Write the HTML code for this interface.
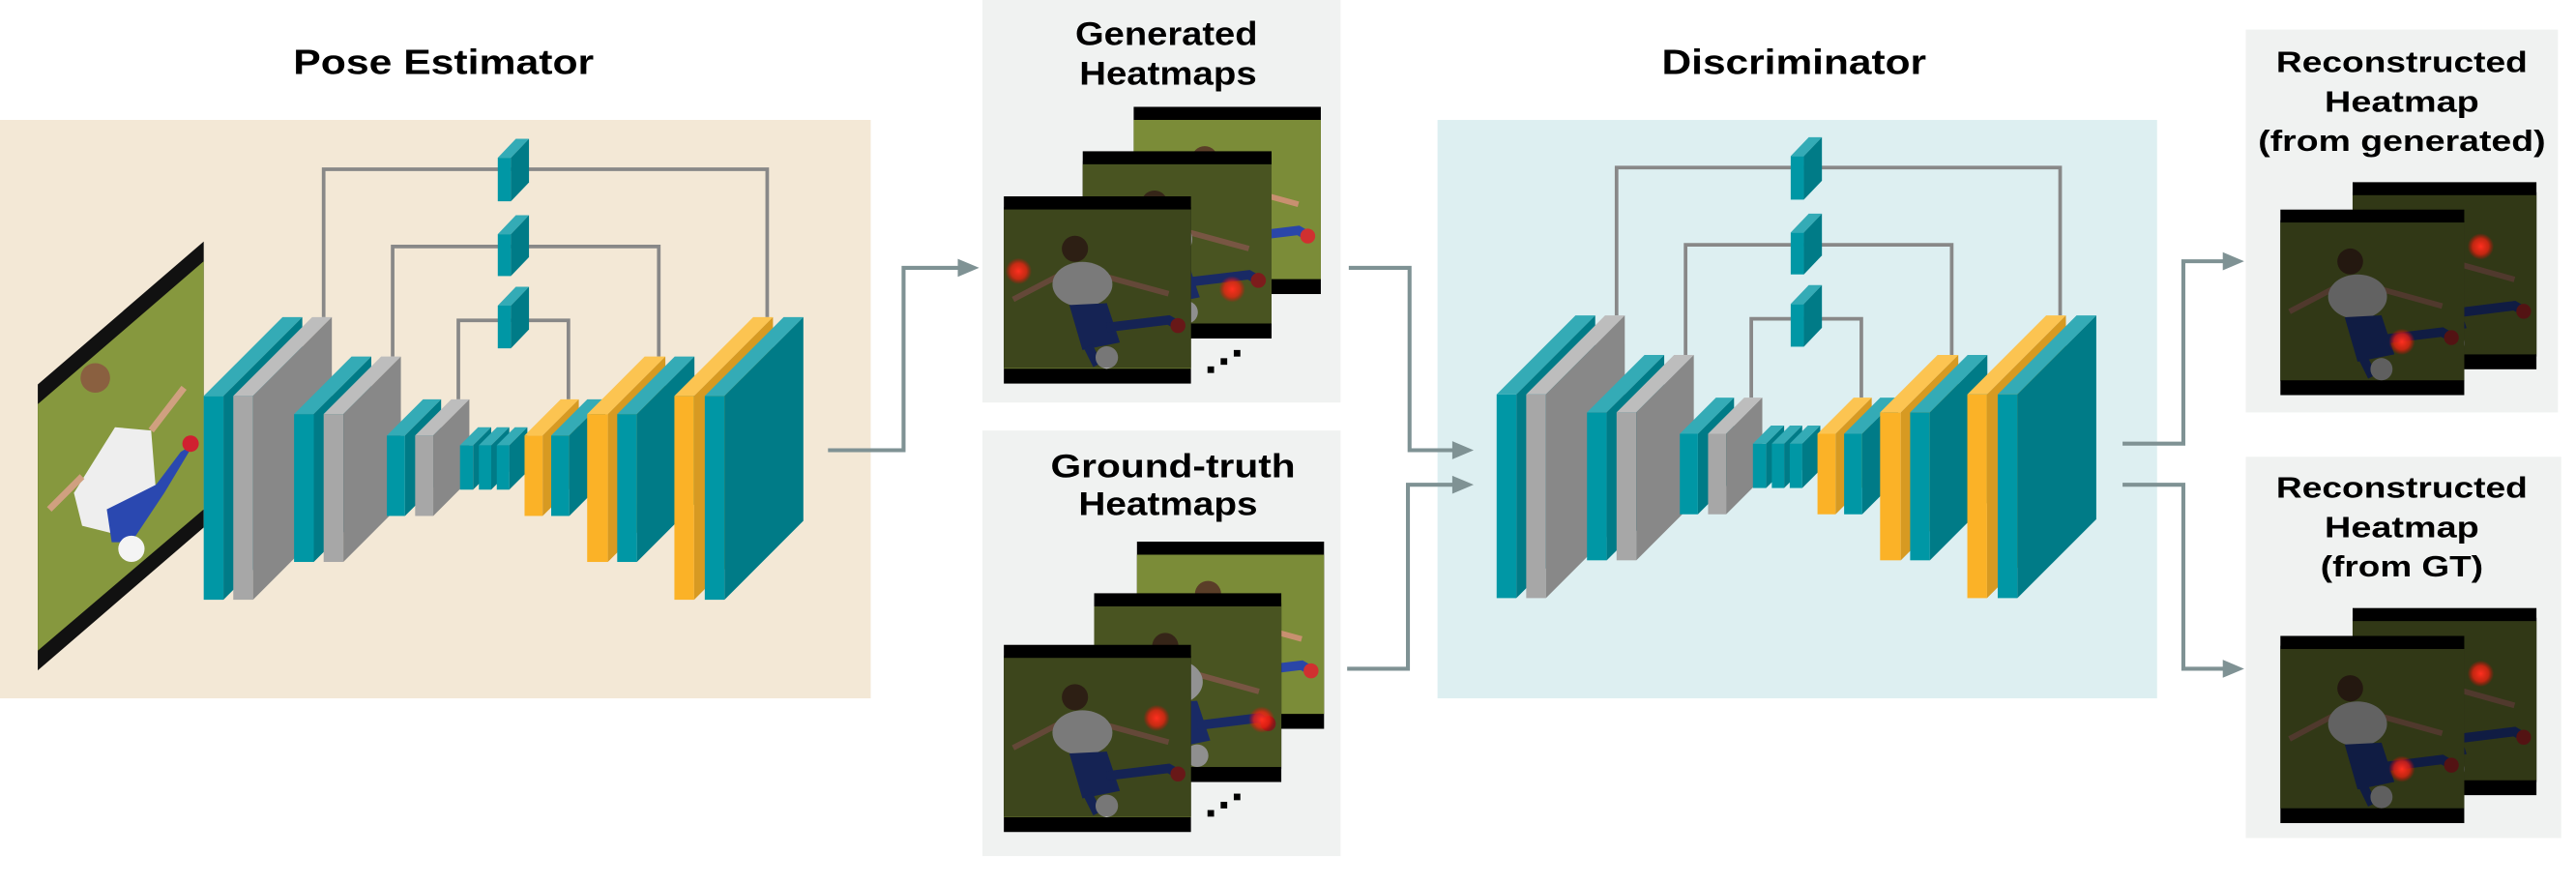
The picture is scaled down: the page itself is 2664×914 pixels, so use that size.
<!DOCTYPE html>
<html><head><meta charset="utf-8"><style>
html,body{margin:0;padding:0;background:#fff;}
svg{display:block;}
text{font-family:"Liberation Sans",Arial,sans-serif;font-weight:bold;fill:#000;}
.tf{fill:#0097a5}.tt{fill:#34abb6}.ts{fill:#007b87}
.gf{fill:#a7a7a7}.gt{fill:#bdbdbd}.gs{fill:#888}
.of{fill:#fbb227}.ot{fill:#fcc451}.os{fill:#d79a22}
.ar{fill:none;stroke:#7f9294;stroke-width:2.4;}
</style></head><body>
<svg width="2664" height="914" viewBox="0 0 1568 538" preserveAspectRatio="none" xmlns="http://www.w3.org/2000/svg">
<defs>
<radialGradient id="glow"><stop offset="0" stop-color="#ff3020" stop-opacity="1"/><stop offset="0.6" stop-color="#ff2010" stop-opacity="0.7"/><stop offset="1" stop-color="#ff0000" stop-opacity="0"/></radialGradient>
<symbol id="pic" viewBox="0 0 100 100" preserveAspectRatio="none">
<rect width="100" height="100" fill="#000"/>
<rect y="7" width="100" height="85" fill="#7b8c38"/>
<path d="M5 55 L30 42 L55 43 L88 52" stroke="#c89070" stroke-width="3" fill="none"/>
<ellipse cx="42" cy="47" rx="16" ry="12" fill="#f4f4f4"/>
<circle cx="38" cy="28" r="7" fill="#5a3e28"/>
<path d="M35 58 L55 57 L62 78 L42 82 Z" fill="#2a46a8"/>
<path d="M55 70 L88 66 L95 70" stroke="#2a46a8" stroke-width="5" fill="none"/>
<path d="M45 80 L50 90" stroke="#2a46a8" stroke-width="5"/>
<circle cx="55" cy="86" r="6" fill="#eee"/>
<circle cx="93" cy="69" r="4" fill="#d03030"/>
</symbol>
<g id="net">
<path d="M197,193V103H467V193M239,217V150H401V217M279,243V195H346V243" fill="none" stroke="#888" stroke-width="2.2"/>
<rect class="tf" x="124" y="241" width="12" height="124"/><polygon class="tt" points="124,241 172,193 184,193 136,241"/><polygon class="ts" points="136,241 184,193 184,317 136,365"/>
<rect class="gf" x="142" y="241" width="12" height="124"/><polygon class="gt" points="142,241 190,193 202,193 154,241"/><polygon class="gs" points="154,241 202,193 202,317 154,365"/>
<rect class="tf" x="179" y="252" width="12" height="90"/><polygon class="tt" points="179,252 214,217 226,217 191,252"/><polygon class="ts" points="191,252 226,217 226,307 191,342"/>
<rect class="gf" x="197" y="252" width="12" height="90"/><polygon class="gt" points="197,252 232,217 244,217 209,252"/><polygon class="gs" points="209,252 244,217 244,307 209,342"/>
<rect class="tf" x="235.5" y="265" width="11" height="49"/><polygon class="tt" points="235.5,265 257.5,243 268.5,243 246.5,265"/><polygon class="ts" points="246.5,265 268.5,243 268.5,292 246.5,314"/>
<rect class="gf" x="252.7" y="265" width="11" height="49"/><polygon class="gt" points="252.7,265 274.7,243 285.7,243 263.7,265"/><polygon class="gs" points="263.7,265 285.7,243 285.7,292 263.7,314"/>
<rect class="tf" x="280" y="271" width="8" height="27"/><polygon class="tt" points="280,271 291,260 299,260 288,271"/><polygon class="ts" points="288,271 299,260 299,287 288,298"/>
<rect class="tf" x="291.5" y="271" width="7.5" height="27"/><polygon class="tt" points="291.5,271 302.5,260 310,260 299,271"/><polygon class="ts" points="299,271 310,260 310,287 299,298"/>
<rect class="tf" x="302.4" y="271" width="7.6" height="27"/><polygon class="tt" points="302.4,271 313.4,260 321,260 310,271"/><polygon class="ts" points="310,271 321,260 321,287 310,298"/>
<rect class="of" x="319.3" y="265" width="11" height="49"/><polygon class="ot" points="319.3,265 341.3,243 352.3,243 330.3,265"/><polygon class="os" points="330.3,265 352.3,243 352.3,292 330.3,314"/>
<rect class="tf" x="335.5" y="265" width="11" height="49"/><polygon class="tt" points="335.5,265 357.5,243 368.5,243 346.5,265"/><polygon class="ts" points="346.5,265 368.5,243 368.5,292 346.5,314"/>
<rect class="of" x="357.4" y="252" width="12.6" height="90"/><polygon class="ot" points="357.4,252 392.4,217 405,217 370,252"/><polygon class="os" points="370,252 405,217 405,307 370,342"/>
<rect class="tf" x="375.7" y="252" width="12" height="90"/><polygon class="tt" points="375.7,252 410.7,217 422.7,217 387.7,252"/><polygon class="ts" points="387.7,252 422.7,217 422.7,307 387.7,342"/>
<rect class="of" x="410.5" y="241" width="12" height="124"/><polygon class="ot" points="410.5,241 458.5,193 470.5,193 422.5,241"/><polygon class="os" points="422.5,241 470.5,193 470.5,317 422.5,365"/>
<rect class="tf" x="429" y="241" width="12" height="124"/><polygon class="tt" points="429,241 477,193 489,193 441,241"/><polygon class="ts" points="441,241 489,193 489,317 441,365"/>
<rect class="tf" x="303" y="96" width="8" height="26.5"/><polygon class="tt" points="303,96 314,84.5 322,84.5 311,96"/><polygon class="ts" points="311,96 322,84.5 322,111 311,122.5"/>
<rect class="tf" x="303" y="142.5" width="8" height="25.5"/><polygon class="tt" points="303,142.5 314,131 322,131 311,142.5"/><polygon class="ts" points="311,142.5 322,131 322,156.5 311,168"/>
<rect class="tf" x="303" y="186" width="8" height="26"/><polygon class="tt" points="303,186 314,174.5 322,174.5 311,186"/><polygon class="ts" points="311,186 322,174.5 322,200.5 311,212"/>
</g>
</defs>

<rect x="0" y="73" width="530" height="352" fill="#f3e8d6"/>
<rect x="875" y="73" width="438" height="352" fill="#ddeff1"/>
<rect x="598" y="0" width="218" height="245" fill="#f0f2f1"/>
<rect x="598" y="262" width="218" height="259" fill="#f0f2f1"/>
<rect x="1367" y="18" width="190" height="233" fill="#f0f2f1"/>
<rect x="1367" y="278" width="192" height="232" fill="#f0f2f1"/>

<text x="270" y="38" font-size="21" text-anchor="middle" dominant-baseline="central" textLength="183" lengthAdjust="spacingAndGlyphs">Pose Estimator</text>
<text x="1092" y="38" font-size="21" text-anchor="middle" dominant-baseline="central" textLength="161" lengthAdjust="spacingAndGlyphs">Discriminator</text>
<text x="710" y="21" font-size="20" text-anchor="middle" dominant-baseline="central" textLength="111" lengthAdjust="spacingAndGlyphs">Generated</text>
<text x="711" y="45" font-size="20" text-anchor="middle" dominant-baseline="central" textLength="108" lengthAdjust="spacingAndGlyphs">Heatmaps</text>
<text x="714" y="284" font-size="20" text-anchor="middle" dominant-baseline="central" textLength="149" lengthAdjust="spacingAndGlyphs">Ground-truth</text>
<text x="711" y="307" font-size="20" text-anchor="middle" dominant-baseline="central" textLength="109" lengthAdjust="spacingAndGlyphs">Heatmaps</text>
<g font-size="18">
<text x="1462" y="38" text-anchor="middle" dominant-baseline="central" textLength="153" lengthAdjust="spacingAndGlyphs">Reconstructed</text>
<text x="1462" y="62" text-anchor="middle" dominant-baseline="central" textLength="94" lengthAdjust="spacingAndGlyphs">Heatmap</text>
<text x="1462" y="86" text-anchor="middle" dominant-baseline="central" textLength="175" lengthAdjust="spacingAndGlyphs">(from generated)</text>
<text x="1462" y="297" text-anchor="middle" dominant-baseline="central" textLength="153" lengthAdjust="spacingAndGlyphs">Reconstructed</text>
<text x="1462" y="321" text-anchor="middle" dominant-baseline="central" textLength="94" lengthAdjust="spacingAndGlyphs">Heatmap</text>
<text x="1462" y="345" text-anchor="middle" dominant-baseline="central" textLength="99" lengthAdjust="spacingAndGlyphs">(from GT)</text>
</g>

<polygon points="23,234 124,147 124,321 23,408" fill="#111"/>
<polygon points="23,246 124,159 124,310 23,396" fill="#86983e"/>
<polygon points="45,300 70,260 92,262 95,300 70,325 50,320" fill="#eeeeee"/>
<circle cx="58" cy="230" r="9" fill="#8a6040"/>
<polygon points="65,310 95,295 110,275 118,270 100,300 80,330 68,330" fill="#2a48b0"/>
<circle cx="80" cy="334" r="8" fill="#f4f4f4"/>
<circle cx="116" cy="270" r="5" fill="#d02030"/>
<path d="M30 310 L50 290 M92 262 L112 236" stroke="#d0a080" stroke-width="4"/>

<use href="#net"/>
<use href="#net" transform="translate(787,-1)"/>

<use href="#pic" x="690" y="65" width="114" height="114"/>
<use href="#pic" x="659" y="92" width="115" height="114"/><rect x="659" y="98" width="115" height="100" fill="#000" opacity="0.4"/>
<circle cx="750" cy="176" r="8" fill="url(#glow)"/>
<use href="#pic" x="611" y="119.5" width="114" height="114"/><rect x="611" y="126" width="114" height="98" fill="#000" opacity="0.5"/>
<circle cx="620" cy="165" r="8" fill="url(#glow)"/>
<g fill="#000"><rect x="735" y="223" width="4" height="4"/><rect x="743" y="218" width="4" height="4"/><rect x="751" y="213" width="4" height="4"/></g>

<use href="#pic" x="692" y="329.6" width="114" height="114"/>
<use href="#pic" x="666" y="361" width="114" height="115"/><rect x="666" y="367" width="114" height="101" fill="#000" opacity="0.4"/>
<circle cx="768" cy="438" r="8" fill="url(#glow)"/>
<use href="#pic" x="611" y="392.4" width="114" height="114"/><rect x="611" y="399" width="114" height="98" fill="#000" opacity="0.5"/>
<circle cx="704" cy="437" r="8" fill="url(#glow)"/>
<g fill="#000"><rect x="735" y="493" width="4" height="4"/><rect x="743" y="488" width="4" height="4"/><rect x="751" y="483" width="4" height="4"/></g>

<use href="#pic" x="1432" y="110.8" width="112" height="114"/><rect x="1432" y="117" width="112" height="100" fill="#000" opacity="0.6"/>
<circle cx="1510" cy="150" r="8" fill="url(#glow)"/>
<use href="#pic" x="1388" y="127.5" width="112" height="113"/><rect x="1388" y="134" width="112" height="98" fill="#000" opacity="0.6"/>
<circle cx="1462" cy="208" r="8" fill="url(#glow)"/>
<use href="#pic" x="1432" y="370" width="112" height="114"/><rect x="1432" y="376" width="112" height="100" fill="#000" opacity="0.6"/>
<circle cx="1510" cy="410" r="8" fill="url(#glow)"/>
<use href="#pic" x="1388" y="387" width="112" height="114"/><rect x="1388" y="393" width="112" height="99" fill="#000" opacity="0.6"/>
<circle cx="1462" cy="468" r="8" fill="url(#glow)"/>

<path class="ar" d="M504,274 H550 V163 H584"/><polygon points="596,163 583,157.5 583,168.5" fill="#7f9294"/>
<path class="ar" d="M821,163 H858 V274 H885"/><polygon points="897,274 884,268.5 884,279.5" fill="#7f9294"/>
<path class="ar" d="M820,407 H857 V295 H885"/><polygon points="897,295 884,289.5 884,300.5" fill="#7f9294"/>
<path class="ar" d="M1292,270 H1329 V159 H1354"/><polygon points="1366,159 1353,153.5 1353,164.5" fill="#7f9294"/>
<path class="ar" d="M1292,295 H1329 V407 H1354"/><polygon points="1366,407 1353,401.5 1353,412.5" fill="#7f9294"/>
</svg>
</body></html>
